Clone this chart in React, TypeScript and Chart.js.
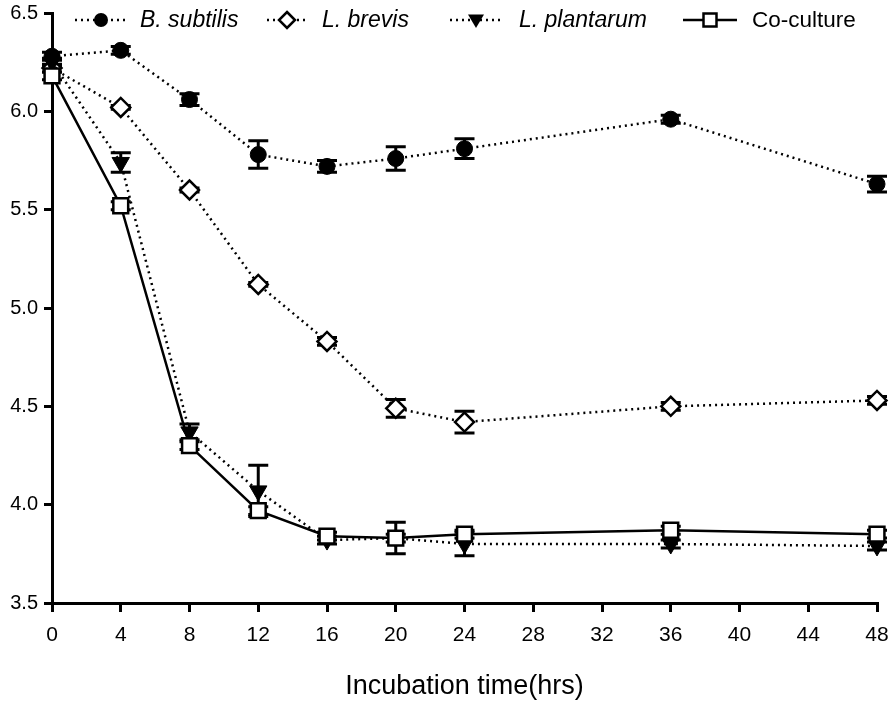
import React, { useEffect, useRef } from 'react';
import { Chart, registerables } from 'chart.js';

Chart.register(...registerables);

// ---- data ----
const hours = [0, 4, 8, 12, 16, 20, 24, 36, 48];
const xTicksStep = 4;
const yTicks = [3.5, 4.0, 4.5, 5.0, 5.5, 6.0, 6.5];

const seriesNames = ['B. subtilis', 'L. brevis', 'L. plantarum', 'Co-culture'];

const subtilis = [6.28, 6.31, 6.06, 5.78, 5.72, 5.76, 5.81, 5.96, 5.63];
const subtilisErr = [0.02, 0.02, 0.03, 0.07, 0.03, 0.06, 0.05, 0.02, 0.04];

const brevis = [6.22, 6.02, 5.6, 5.12, 4.83, 4.49, 4.42, 4.5, 4.53];
const brevisErr = [0.02, 0.01, 0.01, 0.01, 0.02, 0.045, 0.055, 0.02, 0.02];

const plantarum = [6.25, 5.74, 4.37, 4.07, 3.82, 3.83, 3.8, 3.8, 3.79];
const plantarumErr = [0.02, 0.05, 0.04, 0.13, 0.02, 0.02, 0.06, 0.02, 0.02];

const coculture = [6.18, 5.52, 4.3, 3.97, 3.84, 3.83, 3.85, 3.87, 3.85];
const cocultureErr = [0.02, 0.02, 0.02, 0.02, 0.02, 0.08, 0.02, 0.02, 0.02];

const xTitle = 'Incubation time(hrs)';

// ---- styling / layout ----
const FONT = '"Liberation Sans", Arial, Helvetica, sans-serif';
const DOT_DASH = [2, 4];

type Marker = 'circle' | 'diamond' | 'triangleDown' | 'square';

const legendLayout = [
  { x0: 75, x1: 127, tx: 140, marker: 'circle' as Marker, dashed: true, italic: true, size: 23 },
  { x0: 267, x1: 307, tx: 322, marker: 'diamond' as Marker, dashed: true, italic: true, size: 23 },
  { x0: 450, x1: 502, tx: 519, marker: 'triangleDown' as Marker, dashed: true, italic: true, size: 23 },
  { x0: 683, x1: 737, tx: 752, marker: 'square' as Marker, dashed: false, italic: false, size: 22.5 },
];

function drawMarker(ctx: CanvasRenderingContext2D, m: Marker, x: number, y: number, r: number) {
  ctx.save();
  ctx.setLineDash([]);
  ctx.lineWidth = 2.5;
  ctx.strokeStyle = '#000';
  ctx.beginPath();
  if (m === 'circle') {
    ctx.arc(x, y, r, 0, Math.PI * 2);
    ctx.fillStyle = '#000';
    ctx.fill();
  } else if (m === 'diamond') {
    ctx.moveTo(x, y - r);
    ctx.lineTo(x + r, y);
    ctx.lineTo(x, y + r);
    ctx.lineTo(x - r, y);
    ctx.closePath();
    ctx.fillStyle = '#fff';
    ctx.fill();
    ctx.stroke();
  } else if (m === 'triangleDown') {
    ctx.moveTo(x - r, y - r * 0.7);
    ctx.lineTo(x + r, y - r * 0.7);
    ctx.lineTo(x, y + r);
    ctx.closePath();
    ctx.fillStyle = '#000';
    ctx.fill();
  } else {
    ctx.rect(x - r, y - r, 2 * r, 2 * r);
    ctx.fillStyle = '#fff';
    ctx.fill();
    ctx.stroke();
  }
  ctx.restore();
}

const legendPlugin = {
  id: 'customLegend',
  afterDraw(chart: any) {
    const ctx: CanvasRenderingContext2D = chart.ctx;
    const y = 20;
    ctx.save();
    legendLayout.forEach((it, i) => {
      ctx.strokeStyle = '#000';
      ctx.lineWidth = 2.5;
      ctx.setLineDash(it.dashed ? DOT_DASH : []);
      ctx.beginPath();
      ctx.moveTo(it.x0, y);
      ctx.lineTo(it.x1, y);
      ctx.stroke();
      ctx.setLineDash([]);
      const sz = it.marker === 'square' ? 6.5 : it.marker === 'circle' ? 7 : 8;
      drawMarker(ctx, it.marker, (it.x0 + it.x1) / 2, y, sz);
      ctx.font = `${it.italic ? 'italic ' : ''}${it.size}px ${FONT}`;
      ctx.fillStyle = '#000';
      ctx.textAlign = 'left';
      ctx.textBaseline = 'middle';
      ctx.fillText(seriesNames[i], it.tx, y + 1);
    });
    ctx.restore();
  },
};

const errorBarPlugin = {
  id: 'errorBars',
  beforeDatasetsDraw(chart: any) {
    const ctx: CanvasRenderingContext2D = chart.ctx;
    const xs = chart.scales.x;
    const ys = chart.scales.y;
    ctx.save();
    ctx.strokeStyle = '#000';
    ctx.lineWidth = 3;
    ctx.setLineDash([]);
    chart.data.datasets.forEach((ds: any) => {
      ds.data.forEach((pt: any, i: number) => {
        const e = ds.errors[i];
        const px = xs.getPixelForValue(pt.x);
        const top = ys.getPixelForValue(pt.y + e);
        const bot = ys.getPixelForValue(pt.y - e);
        const cw = 10;
        ctx.beginPath();
        ctx.moveTo(px, top);
        ctx.lineTo(px, bot);
        ctx.moveTo(px - cw, top);
        ctx.lineTo(px + cw, top);
        ctx.moveTo(px - cw, bot);
        ctx.lineTo(px + cw, bot);
        ctx.stroke();
      });
    });
    ctx.restore();
  },
};

const toPoints = (vals: number[]) => vals.map((v, i) => ({ x: hours[i], y: v }));

export default function App() {
  const ref = useRef<HTMLCanvasElement>(null);

  useEffect(() => {
    if (!ref.current) return;
    const common = {
      borderColor: '#000',
      pointBorderColor: '#000',
      pointBorderWidth: 2.5,
      borderWidth: 2.5,
      tension: 0,
      clip: false as any,
    };
    const chart = new Chart(ref.current, {
      type: 'line',
      data: {
        datasets: [
          {
            ...common,
            label: seriesNames[3],
            data: toPoints(coculture),
            errors: cocultureErr,
            pointStyle: 'rect',
            pointRadius: 10.5,
            pointBackgroundColor: '#fff',
            order: 0,
          } as any,
          {
            ...common,
            label: seriesNames[0],
            data: toPoints(subtilis),
            errors: subtilisErr,
            borderDash: DOT_DASH,
            pointStyle: 'circle',
            pointRadius: 8,
            pointBorderWidth: 1,
            pointBackgroundColor: '#000',
            order: 1,
          } as any,
          {
            ...common,
            label: seriesNames[2],
            data: toPoints(plantarum),
            errors: plantarumErr,
            borderDash: DOT_DASH,
            pointStyle: 'triangle',
            pointRotation: 180,
            pointRadius: 10,
            pointBorderWidth: 1,
            pointBackgroundColor: '#000',
            order: 2,
          } as any,
          {
            ...common,
            label: seriesNames[1],
            data: toPoints(brevis),
            errors: brevisErr,
            borderDash: DOT_DASH,
            pointStyle: 'rectRot',
            pointRadius: 9.5,
            pointBackgroundColor: '#fff',
            order: 3,
          } as any,
        ],
      },
      options: {
        animation: false,
        responsive: false,
        events: [],
        layout: { padding: { top: 10, right: 12, left: 0, bottom: 0 } },
        plugins: { legend: { display: false }, tooltip: { enabled: false } },
        scales: {
          x: {
            type: 'linear',
            min: 0,
            max: 48,
            afterFit: (s: any) => {
              s.height = 98;
              s.paddingLeft = 0;
              s.paddingRight = 0;
            },
            ticks: {
              stepSize: xTicksStep,
              color: '#000',
              font: { family: FONT, size: 21 },
              padding: 11,
              maxRotation: 0,
            },
            grid: {
              drawOnChartArea: false,
              drawTicks: true,
              tickLength: 9,
              color: '#000',
              lineWidth: 3,
            },
            border: { color: '#000', width: 3 },
            title: {
              display: true,
              text: xTitle,
              color: '#000',
              font: { family: FONT, size: 27, lineHeight: 1.1 },
              padding: { top: 0, bottom: 0 },
            },
          },
          y: {
            type: 'linear',
            min: yTicks[0],
            max: yTicks[yTicks.length - 1],
            afterFit: (s: any) => {
              s.width = 52;
              s.paddingTop = 0;
              s.paddingBottom = 0;
            },
            afterBuildTicks: (s: any) => {
              s.ticks = yTicks.map((v) => ({ value: v }));
            },
            ticks: {
              color: '#000',
              font: { family: FONT, size: 20 },
              padding: 6,
              callback: (v: any) => Number(v).toFixed(1),
            },
            grid: {
              drawOnChartArea: false,
              drawTicks: true,
              tickLength: 8,
              color: '#000',
              lineWidth: 3,
            },
            border: { color: '#000', width: 3 },
          },
        },
      } as any,
      plugins: [errorBarPlugin, legendPlugin],
    });
    return () => chart.destroy();
  }, []);

  return (
    <div style={{ position: 'absolute', left: 0, top: 0, width: 890, height: 701, background: '#fff' }}>
      <canvas ref={ref} width={890} height={701} style={{ display: 'block' }} />
    </div>
  );
}
